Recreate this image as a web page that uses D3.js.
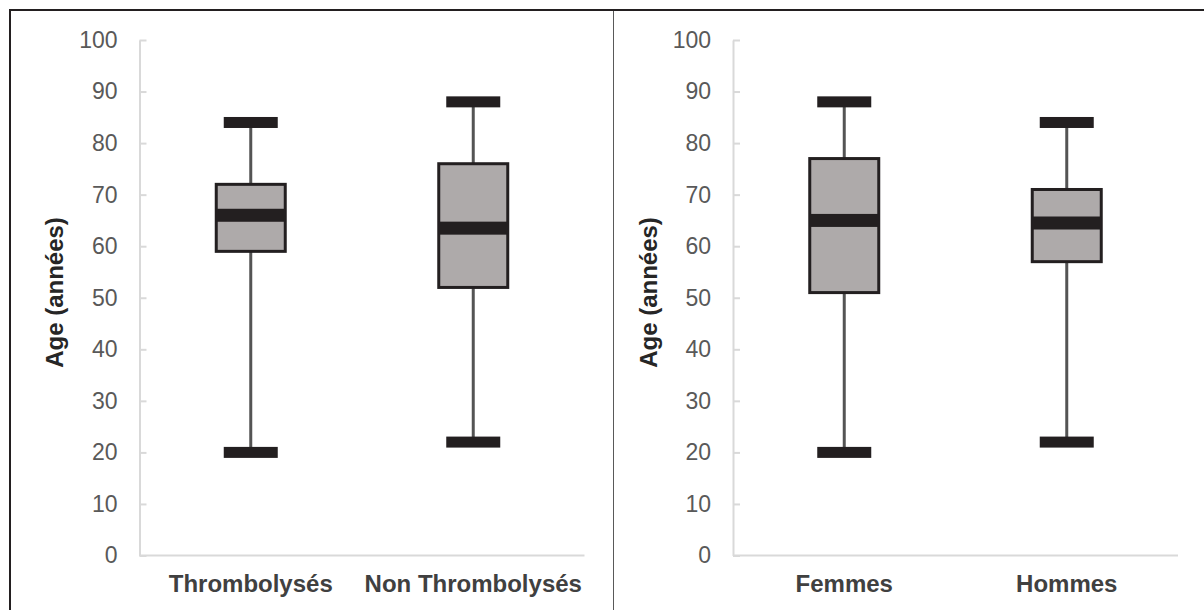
<!DOCTYPE html>
<html>
<head>
<meta charset="utf-8">
<script src="https://cdn.jsdelivr.net/npm/d3@7"></script>
<style>
  html, body { margin: 0; padding: 0; background: #fff; }
  svg { display: block; }
</style>
</head>
<body>
<svg id="chart" width="1204" height="610"></svg>
<script>
// ---- data ----
const leftCategories = ["Thrombolysés", "Non Thrombolysés"];
const leftMin    = [20, 22];
const leftQ1     = [59, 52];
const leftMedian = [66, 63.5];
const leftQ3     = [72, 76];
const leftMax    = [84, 88];

const rightCategories = ["Femmes", "Hommes"];
const rightMin    = [20, 22];
const rightQ1     = [51, 57];
const rightMedian = [65, 64.5];
const rightQ3     = [77, 71];
const rightMax    = [88, 84];

const yTicks = [0, 10, 20, 30, 40, 50, 60, 70, 80, 90, 100];
const yTitle = "Age (années)";

// ---- drawing ----
const svg = d3.select("#chart");
const font = "'Liberation Sans', Arial, sans-serif";

// outer frame
svg.append("line").attr("x1", 10).attr("x2", 10).attr("y1", 9).attr("y2", 610)
  .attr("stroke", "#231F20").attr("stroke-width", 2);
svg.append("line").attr("x1", 9).attr("x2", 1204).attr("y1", 10).attr("y2", 10)
  .attr("stroke", "#231F20").attr("stroke-width", 2);
svg.append("line").attr("x1", 613.5).attr("x2", 613.5).attr("y1", 11).attr("y2", 610)
  .attr("stroke", "#595959").attr("stroke-width", 1);

const y = d3.scaleLinear().domain([0, 100]).range([555.5, 40]);

function drawPanel(axisX, cats, mins, q1s, meds, q3s, maxs) {
  const g = svg.append("g");
  const x = d3.scaleBand().domain(cats).range([axisX, axisX + 445]).padding(0);

  // y axis line + inner ticks
  const ax = g.append("g").attr("transform", `translate(${axisX},0)`)
    .call(d3.axisRight(y).tickValues(yTicks).tickSize(7).tickSizeOuter(0).tickFormat(""));
  ax.selectAll("path, line").attr("stroke", "#D9D9D9").attr("stroke-width", 2);

  // tick labels
  const lab = g.append("g").attr("transform", `translate(${axisX},0)`)
    .call(d3.axisLeft(y).tickValues(yTicks).tickSize(0).tickPadding(22));
  lab.select(".domain").remove();
  lab.selectAll("text").attr("font-family", font).attr("font-size", 23)
    .attr("fill", "#595959");

  // x axis line
  g.append("line").attr("x1", axisX).attr("x2", axisX + 445)
    .attr("y1", y(0)).attr("y2", y(0))
    .attr("stroke", "#D9D9D9").attr("stroke-width", 2);

  // category labels
  g.selectAll(".cat").data(cats).join("text")
    .attr("x", d => x(d) + x.bandwidth() / 2).attr("y", 592)
    .attr("text-anchor", "middle").attr("font-family", font)
    .attr("font-size", 24).attr("font-weight", "bold").attr("fill", "#404040")
    .text(d => d);

  // y title
  g.append("text")
    .attr("transform", `translate(${axisX - 76.5},${292.5}) rotate(-90)`)
    .attr("text-anchor", "middle").attr("font-family", font)
    .attr("font-size", 24).attr("font-weight", "bold").attr("fill", "#262626")
    .text(yTitle);

  const boxW = 69, capW = 54, capH = 11, medH = 13;
  cats.forEach((c, i) => {
    const cx = x(c) + x.bandwidth() / 2;
    // whisker
    g.append("line").attr("x1", cx).attr("x2", cx)
      .attr("y1", y(mins[i])).attr("y2", y(maxs[i]))
      .attr("stroke", "#545454").attr("stroke-width", 3);
    // caps
    [mins[i], maxs[i]].forEach(v => {
      g.append("rect").attr("x", cx - capW / 2).attr("y", y(v) - capH / 2)
        .attr("width", capW).attr("height", capH).attr("fill", "#231F20");
    });
    // box
    g.append("rect").attr("x", cx - boxW / 2).attr("y", y(q3s[i]))
      .attr("width", boxW).attr("height", y(q1s[i]) - y(q3s[i]))
      .attr("fill", "#AEAAAA").attr("stroke", "#231F20").attr("stroke-width", 3);
    // median band
    g.append("rect").attr("x", cx - boxW / 2).attr("y", y(meds[i]) - medH / 2)
      .attr("width", boxW).attr("height", medH).attr("fill", "#231F20");
  });
}

drawPanel(139.5, leftCategories, leftMin, leftQ1, leftMedian, leftQ3, leftMax);
drawPanel(733, rightCategories, rightMin, rightQ1, rightMedian, rightQ3, rightMax);
</script>
</body>
</html>
